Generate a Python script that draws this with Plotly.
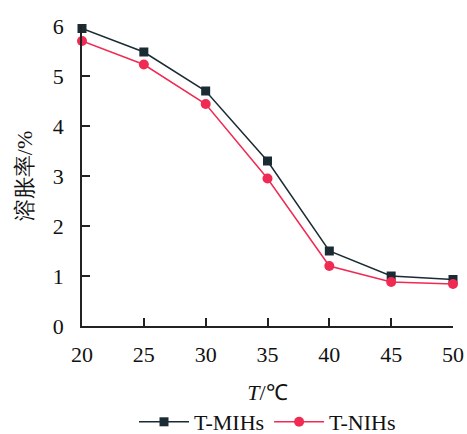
import plotly.graph_objects as go

temps = [20, 25, 30, 35, 40, 45, 50]
t_mihs = [5.95, 5.48, 4.70, 3.30, 1.50, 1.00, 0.93]
t_nihs = [5.70, 5.23, 4.44, 2.95, 1.20, 0.88, 0.84]
x_ticks = [20, 25, 30, 35, 40, 45, 50]
y_ticks = [0, 1, 2, 3, 4, 5, 6]

font_family = "Liberation Serif, Times New Roman, serif"

fig = go.Figure()
fig.add_trace(go.Scatter(
    x=temps, y=t_mihs, name="T-MIHs", mode="lines+markers",
    line=dict(color="#1b2b33", width=1.5),
    marker=dict(symbol="square", size=9, color="#1b2b33"),
    cliponaxis=False,
))
fig.add_trace(go.Scatter(
    x=temps, y=t_nihs, name="T-NIHs", mode="lines+markers",
    line=dict(color="#f02a52", width=1.5),
    marker=dict(symbol="circle", size=10, color="#f02a52"),
    cliponaxis=False,
))

fig.update_layout(
    width=467, height=434,
    margin=dict(l=82, r=14, t=26, b=108, autoexpand=False),
    paper_bgcolor="white", plot_bgcolor="white",
    font=dict(family=font_family, size=22, color="#111"),
    showlegend=True,
    legend=dict(orientation="h", x=0.5, xanchor="center", xref="paper",
                y=-0.25, yanchor="top", yref="paper",
                font=dict(size=22), itemwidth=50, traceorder="normal"),
    xaxis=dict(range=[20, 50], tickvals=x_ticks, ticks="inside", ticklen=8,
               tickwidth=1.5, tickcolor="#222", showline=True, linecolor="#222",
               linewidth=1.5, showgrid=False, zeroline=False, automargin=False,
               ticklabelstandoff=8,
               title=dict(text="<i>T</i>/℃", font=dict(size=22), standoff=18)),
    yaxis=dict(range=[0, 6], tickvals=y_ticks, ticks="inside", ticklen=8,
               tickwidth=1.5, tickcolor="#222", showline=True, linecolor="#222",
               linewidth=1.5, showgrid=False, zeroline=False, automargin=False,
               ticklabelstandoff=12,
               title=dict(text="溶胀率/%", font=dict(size=22), standoff=14)),
)

fig.write_html("out.html", config={"displayModeBar": False},
               post_script="document.body.style.margin='0';")
